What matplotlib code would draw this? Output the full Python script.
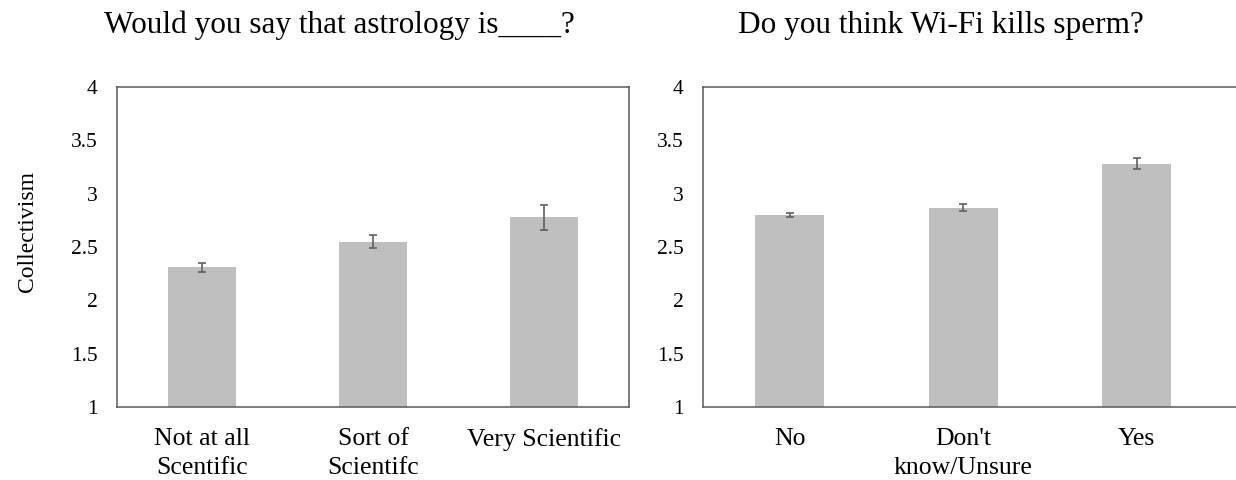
import matplotlib
matplotlib.use('Agg')
import matplotlib.pyplot as plt

plt.rcParams['font.family'] = ['Liberation Serif', 'DejaVu Serif']

# linker paneel: astrologie
astro_labels = ['Not at all\nScentific', 'Sort of\nScientifc', 'Very Scientific']
astro_means = [2.31, 2.55, 2.78]
astro_err = [0.04, 0.058, 0.117]

# rechter paneel: wifi
wifi_labels = ['No', "Don't\nknow/Unsure", 'Yes']
wifi_means = [2.80, 2.87, 3.28]
wifi_err = [0.02, 0.03, 0.053]

bar_kleur = '#bfbfbf'
lijn_kleur = '#595959'

fig = plt.figure(figsize=(12.36, 4.8), dpi=100)
W, H = 1236, 480

def maak_paneel(rect, labels, means, err, xmax, rechts_spine=True):
    ax = fig.add_axes(rect)
    x = range(len(labels))
    ax.bar(x, [m - 1 for m in means], bottom=1, width=0.4, color=bar_kleur,
           yerr=err, error_kw=dict(ecolor='#606060', elinewidth=1.2, capsize=3, capthick=1.2))
    ax.set_xlim(-0.5, xmax)
    ax.set_ylim(1, 4)
    ax.set_yticks([1, 1.5, 2, 2.5, 3, 3.5, 4])
    ax.set_yticklabels(['1', '1.5', '2', '2.5', '3', '3.5', '4'])
    ax.set_xticks(list(x))
    ax.set_xticklabels(labels, multialignment='center', linespacing=1.4, va='top')
    ax.tick_params(axis='y', length=0, pad=14, labelsize=15.5)
    ax.tick_params(axis='x', length=0, pad=15, labelsize=18.5)
    for s in ax.spines.values():
        s.set_color(lijn_kleur)
        s.set_linewidth(1.1)
    if not rechts_spine:
        ax.spines['right'].set_visible(False)
    return ax

ax1 = maak_paneel([117 / W, 73 / H, 512 / W, 320 / H], astro_labels, astro_means, astro_err, 2.5)
ax2 = maak_paneel([703 / W, 73 / H, 533 / W, 320 / H], wifi_labels, wifi_means, wifi_err, 2.572,
                  rechts_spine=False)

fig.text(104 / W, 1 - 33 / H, 'Would you say that astrology is____?', ha='left', va='baseline',
         fontsize=22.5)
fig.text(738 / W, 1 - 33 / H, 'Do you think Wi-Fi kills sperm?', ha='left', va='baseline',
         fontsize=22.5)
fig.text(27 / W, 1 - 231 / H, 'Collectivism', rotation=90, ha='center', va='center', fontsize=17)

fig.savefig('out.png', dpi=100)
